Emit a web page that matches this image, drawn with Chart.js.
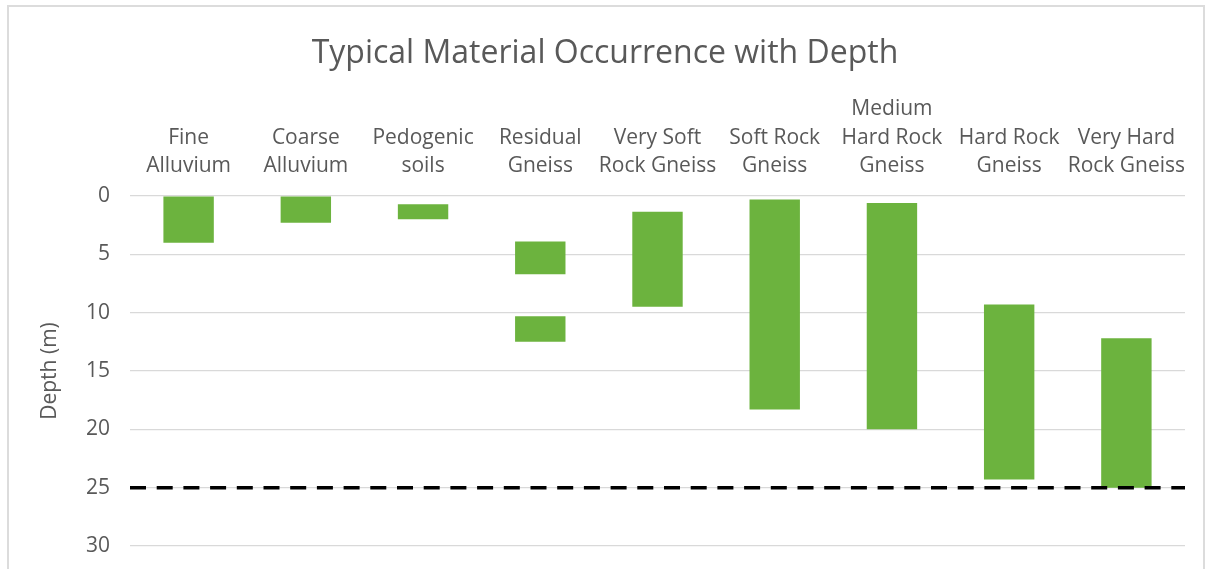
<!DOCTYPE html>
<html>
<head>
<meta charset="utf-8">
<title>Typical Material Occurrence with Depth</title>
<script src="https://cdn.jsdelivr.net/npm/chart.js@4.4.1/dist/chart.umd.min.js"></script>
<style>
  html, body { margin: 0; padding: 0; background: #ffffff; overflow: hidden; }
  #frame {
    position: absolute; left: 7px; top: 5px; width: 1198px; height: 600px;
    border: 2px solid #dcdcdc; box-sizing: border-box;
  }
  #wrap { position: absolute; left: 0; top: 0; width: 1210px; height: 569px; }
</style>
</head>
<body>
<div id="frame"></div>
<div id="wrap"><canvas id="chart" width="1210" height="569"></canvas></div>
<script>
// Material classes, listed left to right
const categories = [
  ['Fine', 'Alluvium'],
  ['Coarse', 'Alluvium'],
  ['Pedogenic', 'soils'],
  ['Residual', 'Gneiss'],
  ['Very Soft', 'Rock Gneiss'],
  ['Soft Rock', 'Gneiss'],
  ['Medium', 'Hard Rock', 'Gneiss'],
  ['Hard Rock', 'Gneiss'],
  ['Very Hard', 'Rock Gneiss']
];

// Depth range (m) where each material occurs: top and bottom of the band
const topDepth    = [0,   0,   0.7, 3.9, 1.35, 0.3,  0.6,  9.3,  12.2];
const bottomDepth = [4.0, 2.3, 2.0, 6.7, 9.5,  18.3, 20.0, 24.3, 25.0];

// Second, deeper band (only residual gneiss has one)
const topDepth2    = [null, null, null, 10.3, null, null, null, null, null];
const bottomDepth2 = [null, null, null, 12.5, null, null, null, null, null];

// Depth axis ticks and the reference depth marked by the dashed line
const depthTicks = [0, 5, 10, 15, 20, 25, 30];
const referenceDepth = 25;

const toRanges = (tops, bottoms) =>
  tops.map((t, i) => (t === null ? null : [t, bottoms[i]]));

const GREEN = '#6cb33e';
const TEXT = '#595959';
const FONT = "'Open Sans', sans-serif";

// Dashed horizontal marker across the plot at the reference depth
const depthLinePlugin = {
  id: 'depthLine',
  afterDatasetsDraw(chart) {
    const { ctx, chartArea, scales } = chart;
    const y = scales.y.getPixelForValue(referenceDepth);
    ctx.save();
    ctx.strokeStyle = '#000000';
    ctx.lineWidth = 3.5;
    ctx.setLineDash([16, 10.7]);
    ctx.beginPath();
    ctx.moveTo(chartArea.left, y);
    ctx.lineTo(chartArea.right, y);
    ctx.stroke();
    ctx.restore();
  }
};

new Chart(document.getElementById('chart'), {
  type: 'bar',
  data: {
    labels: categories,
    datasets: [
      {
        label: 'Occurrence',
        data: toRanges(topDepth, bottomDepth),
        backgroundColor: GREEN,
        borderWidth: 0,
        barPercentage: 0.43,
        categoryPercentage: 1.0,
        grouped: false
      },
      {
        label: 'Occurrence (deeper band)',
        data: toRanges(topDepth2, bottomDepth2),
        backgroundColor: GREEN,
        borderWidth: 0,
        barPercentage: 0.43,
        categoryPercentage: 1.0,
        grouped: false
      }
    ]
  },
  options: {
    responsive: false,
    animation: false,
    events: [],
    layout: { padding: { left: 0, right: 0, top: 0, bottom: 23 } },
    plugins: {
      legend: { display: false },
      tooltip: { enabled: false },
      title: {
        display: true,
        text: 'Typical Material Occurrence with Depth',
        color: TEXT,
        font: { family: FONT, size: 32, weight: 'normal' },
        padding: { top: 34.4, bottom: 0 }
      }
    },
    scales: {
      x: {
        position: 'top',
        grid: { display: false },
        border: { display: false },
        ticks: {
          color: TEXT,
          font: { family: FONT, size: 21, lineHeight: 1.38 },
          padding: 7,
          maxRotation: 0,
          autoSkip: false
        },
        afterFit(scale) {
          scale.height = 123.2;
          // right margin of the plot; the title stays centred on the full width
          scale.paddingRight = 25;
        }
      },
      y: {
        reverse: true,
        min: 0,
        max: 30,
        afterBuildTicks(scale) {
          scale.ticks = depthTicks.map(v => ({ value: v }));
        },
        grid: { color: '#d9d9d9', lineWidth: 1.2, drawTicks: false },
        border: { display: false },
        ticks: {
          color: TEXT,
          font: { family: FONT, size: 21 },
          padding: 20
        },
        title: {
          display: true,
          text: 'Depth (m)',
          color: TEXT,
          font: { family: FONT, size: 21 },
          padding: { top: 37, bottom: 0 }
        },
        afterFit(scale) {
          scale.width = 130;
          // keep the plot bottom governed by the layout padding only
          scale.paddingTop = 0;
          scale.paddingBottom = 0;
        }
      }
    }
  },
  plugins: [depthLinePlugin]
});
</script>
</body>
</html>
